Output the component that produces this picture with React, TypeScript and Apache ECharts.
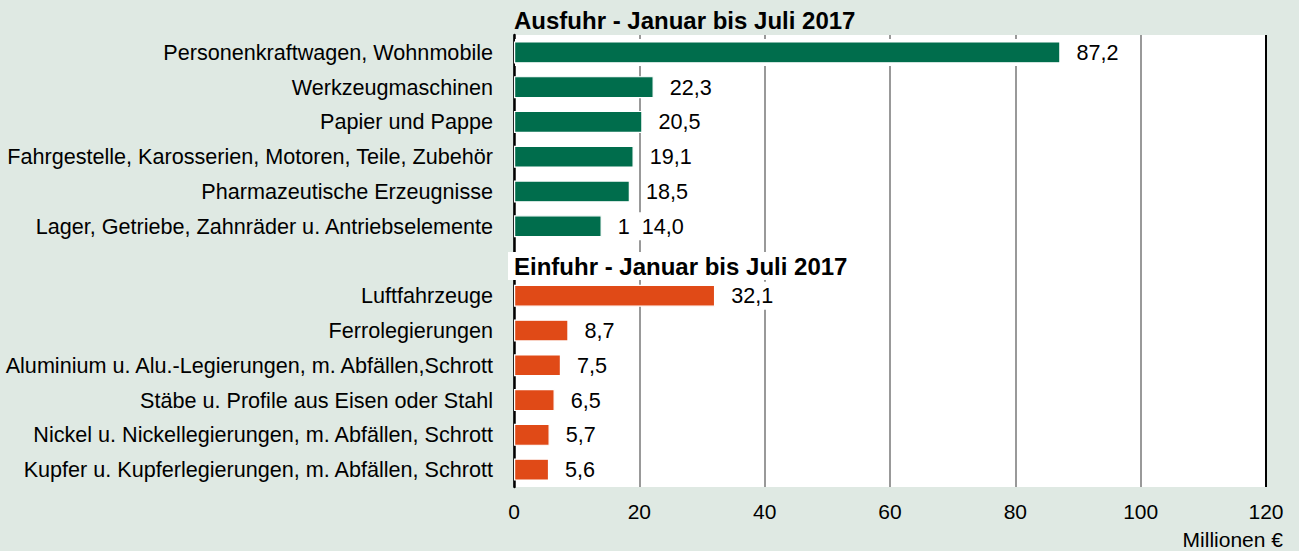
import React, { useEffect, useRef } from "react";
import * as echarts from "echarts";

const exportLabels = [
  "Personenkraftwagen, Wohnmobile",
  "Werkzeugmaschinen",
  "Papier und Pappe",
  "Fahrgestelle, Karosserien, Motoren, Teile, Zubehör",
  "Pharmazeutische Erzeugnisse",
  "Lager, Getriebe, Zahnräder u. Antriebselemente",
];
const exportValues = [87.2, 22.3, 20.5, 19.1, 18.5, 14.0];

const importLabels = [
  "Luftfahrzeuge",
  "Ferrolegierungen",
  "Aluminium u. Alu.-Legierungen, m. Abfällen,Schrott",
  "Stäbe u. Profile aus Eisen oder Stahl",
  "Nickel u. Nickellegierungen, m. Abfällen, Schrott",
  "Kupfer u. Kupferlegierungen, m. Abfällen, Schrott",
];
const importValues = [32.1, 8.7, 7.5, 6.5, 5.7, 5.6];

const exportTitle = "Ausfuhr - Januar bis Juli 2017";
const importTitle = "Einfuhr - Januar bis Juli 2017";
const unitLabel = "Millionen €";
const xTicks = { min: 0, max: 120, interval: 20 };

const FONT = "'Liberation Sans', Arial, sans-serif";
const GREEN = "#006d4c";
const ORANGE = "#e04a17";
const FS = 21.6;

const fmt = (v: number) => v.toFixed(1).replace(".", ",");

export default function App() {
  const ref = useRef<HTMLDivElement>(null);

  useEffect(() => {
    if (!ref.current) return;
    const chart = echarts.init(ref.current, undefined, { renderer: "svg" });

    const categories = [...exportLabels, "", ...importLabels];
    const data: any[] = [
      ...exportValues.map((v, i) => {
        const item: any = { value: v, itemStyle: { color: GREEN } };
        if (i === exportValues.length - 1) {
          item.label = { formatter: "1  " + fmt(v) };
        }
        return item;
      }),
      { value: "-" },
      ...importValues.map((v) => ({ value: v, itemStyle: { color: ORANGE } })),
    ];

    chart.setOption({
      animation: false,
      backgroundColor: "#dfe9e3",
      textStyle: { fontFamily: FONT },
      grid: {
        left: 514,
        right: 33,
        top: 35,
        bottom: 64,
        show: true,
        backgroundColor: "#ffffff",
        borderWidth: 0,
      },
      xAxis: {
        type: "value",
        min: xTicks.min,
        max: xTicks.max,
        interval: xTicks.interval,
        axisLine: { show: false },
        axisTick: { show: false },
        axisLabel: {
          color: "#000",
          fontSize: 21,
          fontFamily: FONT,
          margin: 14,
        },
        splitLine: {
          show: true,
          lineStyle: {
            color: ["#999", "#999", "#999", "#999", "#999", "#999", "#000"],
            width: 2,
          },
        },
      },
      yAxis: {
        type: "category",
        data: categories,
        inverse: true,
        axisLine: { show: true, lineStyle: { color: "#000", width: 2.5 } },
        axisTick: { show: false },
        axisLabel: {
          color: "#000",
          fontSize: FS,
          fontFamily: FONT,
          margin: 21,
        },
        splitLine: { show: false },
      },
      series: [
        {
          type: "bar",
          data,
          barWidth: 22,
          itemStyle: { borderColor: "#ffffff", borderWidth: 1.2 },
          label: {
            show: true,
            position: "right",
            distance: 14,
            color: "#000",
            fontSize: FS,
            fontFamily: FONT,
            backgroundColor: "#ffffff",
            padding: [3, 2],
            formatter: (p: any) => fmt(p.value),
          },
        },
      ],
      graphic: [
        {
          type: "rect",
          z: 1,
          shape: { x: 515, y: 39, width: 610, height: 27 },
          style: { fill: "#ffffff" },
          silent: true,
        },
        {
          type: "rect",
          z: 5,
          shape: { x: 508, y: 252, width: 345, height: 28 },
          style: { fill: "#ffffff" },
          silent: true,
        },
        {
          type: "text",
          z: 6,
          x: 514,
          y: 20,
          style: {
            text: exportTitle,
            fontSize: 24,
            fontWeight: "bold",
            fontFamily: FONT,
            fill: "#000",
            align: "left",
            verticalAlign: "middle",
          },
        },
        {
          type: "text",
          z: 6,
          x: 514,
          y: 266,
          style: {
            text: importTitle,
            fontSize: 24,
            fontWeight: "bold",
            fontFamily: FONT,
            fill: "#000",
            align: "left",
            verticalAlign: "middle",
          },
        },
        {
          type: "text",
          z: 6,
          x: 1283,
          y: 539,
          style: {
            text: unitLabel,
            fontSize: 21,
            fontFamily: FONT,
            fill: "#000",
            align: "right",
            verticalAlign: "middle",
          },
        },
      ],
    });

    return () => chart.dispose();
  }, []);

  return (
    <div
      ref={ref}
      style={{ position: "fixed", left: 0, top: 0, width: 1299, height: 551 }}
    />
  );
}
